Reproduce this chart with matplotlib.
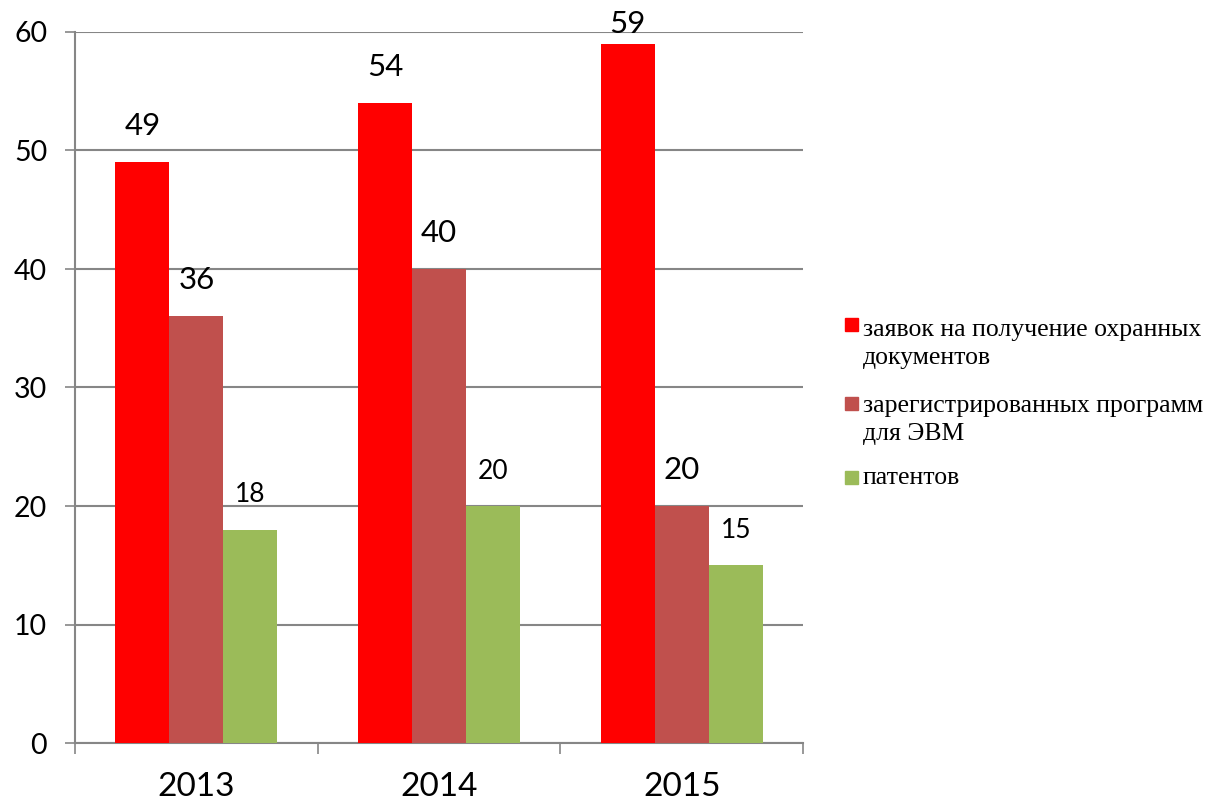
import matplotlib.pyplot as plt
from matplotlib.patches import Rectangle
import numpy as np

years = ['2013', '2014', '2015']
applications = [49, 54, 59]
programs = [36, 40, 20]
patents = [18, 20, 15]
series_names = ['заявок на получение охранных\nдокументов',
                'зарегистрированных программ\nдля ЭВМ',
                'патентов']
colors = ['#FF0000', '#C0504D', '#9BBB59']

fig = plt.figure(figsize=(12.18, 8.05), dpi=100)
ax = fig.add_axes([75 / 1218, 1 - 743 / 805, 728 / 1218, 711 / 805])

x = np.arange(len(years))
w = 0.2225
grey = '#868686'
label_sizes = [22.5, 22.5, 19]
for i, (vals, col) in enumerate(zip([applications, programs, patents], colors)):
    pos = x + (i - 1) * w
    ax.bar(pos, vals, width=w, color=col, zorder=3)
    for px, v in zip(pos, vals):
        off = 4 if v > 57 else 16
        ax.annotate(str(v), (px, v), xytext=(0, off), textcoords='offset points',
                    ha='center', va='bottom', fontsize=label_sizes[i],
                    family='Lato', zorder=4)

ax.set_xlim(-0.5, 2.5)
ax.set_ylim(0, 60)
ax.set_yticks(range(0, 61, 10))
ax.yaxis.grid(True, color=grey, linewidth=1.5, zorder=0)
ax.set_xticks(x)
ax.set_xticklabels(years, fontsize=24, family='Lato')
ax.set_xticks([-0.5, 0.5, 1.5, 2.5], minor=True)
ax.tick_params(axis='x', which='major', length=0, pad=21)
ax.tick_params(axis='x', which='minor', length=8, width=1.2, color=grey)
ax.tick_params(axis='y', length=7, width=1.2, color=grey, labelsize=20.5, pad=13)
for lbl in ax.get_yticklabels():
    lbl.set_family('Lato')
for s in ['top', 'right']:
    ax.spines[s].set_visible(False)
for s in ['left', 'bottom']:
    ax.spines[s].set_color(grey)
    ax.spines[s].set_linewidth(1.5)

# legend drawn by hand so the square sits at the first text line
marker_tops = [318, 397, 471]
baselines = [336, 412, 484]
line_step = 28
for name, col, mt, bl in zip(series_names, colors, marker_tops, baselines):
    fig.patches.append(Rectangle((845 / 1218, 1 - (mt + 13) / 805), 13 / 1218, 13 / 805,
                                 transform=fig.transFigure, color=col))
    for k, line in enumerate(name.split('\n')):
        fig.text(863 / 1218, 1 - (bl + k * line_step) / 805, line,
                 family='Liberation Serif', fontsize=18.5, va='baseline', ha='left')

fig.savefig('out.png')
